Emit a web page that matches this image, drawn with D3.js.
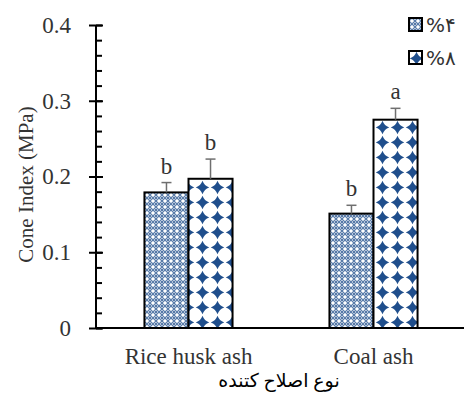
<!DOCTYPE html>
<html>
<head>
<meta charset="utf-8">
<script src="https://cdn.jsdelivr.net/npm/d3@7"></script>
<style>
   html, body { margin: 0; padding: 0; background: #fff; }
   svg { display: block; font-family: 'Liberation Serif', 'DejaVu Sans', serif; }
</style>
</head>
<body>
<div id="chart"></div>
<script>
// data
const categories = ['Rice husk ash', 'Coal ash'];
const seriesNames = ['%۴', '%۸'];
const values4 = [0.179, 0.151];
const errors4 = [0.013, 0.011];
const letters4 = ['b', 'b'];
const values8 = [0.197, 0.275];
const errors8 = [0.026, 0.015];
const letters8 = ['b', 'a'];
const yTicks = [0, 0.1, 0.2, 0.3, 0.4];
const yTitle = 'Cone Index (MPa)';
const xTitle = 'نوع اصلاح کتنده';

const width = 464, height = 396;
const margin = { top: 25, right: -2, bottom: 68, left: 96 };
const blue = '#1f4e8c';
const textColor = '#333';
const fontSize = 23;

const svg = d3.select('#chart')
   .append('svg')
   .attr('width', width)
   .attr('height', height);

// fill patterns
const defs = svg.append('defs');
const p4 = defs.append('pattern')
   .attr('id', 'pat4')
   .attr('patternUnits', 'userSpaceOnUse')
   .attr('width', 6)
   .attr('height', 6);
p4.append('rect').attr('width', 6).attr('height', 6).attr('fill', '#fff');
p4.append('circle').attr('cx', 3).attr('cy', 3).attr('r', 2.4)
   .attr('fill', 'none').attr('stroke', blue).attr('stroke-width', 1);
p4.selectAll('.dot').data([[0, 0], [6, 0], [0, 6], [6, 6]]).join('circle')
   .attr('cx', d => d[0]).attr('cy', d => d[1]).attr('r', 1)
   .attr('fill', blue);

const p8 = defs.append('pattern')
   .attr('id', 'pat8')
   .attr('patternUnits', 'userSpaceOnUse')
   .attr('width', 15)
   .attr('height', 15);
p8.append('rect').attr('width', 15).attr('height', 15).attr('fill', '#fff');
p8.append('path')
   .attr('d', 'M7.5,0.8 Q9.3,5.7 14.2,7.5 Q9.3,9.3 7.5,14.2 Q5.7,9.3 0.8,7.5 Q5.7,5.7 7.5,0.8Z')
   .attr('fill', blue);

const plotBottom = height - margin.bottom;
const x0 = d3.scaleBand()
   .domain(categories)
   .range([margin.left, width - margin.right])
   .padding(0);
const x1 = d3.scaleBand()
   .domain(seriesNames)
   .range([0, x0.bandwidth()])
   .paddingInner(0)
   .paddingOuter(1.1);
const y = d3.scaleLinear()
   .domain([0, 0.4])
   .range([plotBottom, margin.top]);

const rows = [];
categories.forEach((c, i) => {
   rows.push({ cat: c, s: seriesNames[0], v: values4[i], e: errors4[i], l: letters4[i], fill: 'url(#pat4)' });
   rows.push({ cat: c, s: seriesNames[1], v: values8[i], e: errors8[i], l: letters8[i], fill: 'url(#pat8)' });
});

// bars
svg.append('g')
   .selectAll('rect')
   .data(rows)
   .join('rect')
   .attr('x', d => x0(d.cat) + x1(d.s))
   .attr('y', d => y(d.v))
   .attr('width', x1.bandwidth())
   .attr('height', d => plotBottom - y(d.v))
   .attr('fill', d => d.fill)
   .attr('stroke', '#000')
   .attr('stroke-width', 2);

// error bars
const eb = svg.append('g')
   .attr('stroke', '#6f6f6f')
   .attr('stroke-width', 1.5);
rows.forEach(d => {
   const cx = x0(d.cat) + x1(d.s) + x1.bandwidth() / 2;
   eb.append('line')
      .attr('x1', cx).attr('x2', cx)
      .attr('y1', y(d.v)).attr('y2', y(d.v + d.e));
   eb.append('line')
      .attr('x1', cx - 5).attr('x2', cx + 5)
      .attr('y1', y(d.v + d.e)).attr('y2', y(d.v + d.e));
});

// significance letters
svg.append('g')
   .selectAll('text')
   .data(rows)
   .join('text')
   .attr('x', d => x0(d.cat) + x1(d.s) + x1.bandwidth() / 2)
   .attr('y', d => y(d.v + d.e) - 9)
   .attr('text-anchor', 'middle')
   .attr('font-size', fontSize)
   .attr('fill', textColor)
   .text(d => d.l);

// y axis: minor ticks inside, major ticks crossing
const minorG = svg.append('g')
   .attr('transform', `translate(${margin.left},0)`)
   .call(
      d3.axisRight(y)
         .tickValues(d3.range(0, 0.4001, 0.02))
         .tickSize(6)
         .tickFormat('')
   );
minorG.select('.domain').remove();
minorG.selectAll('.tick line').attr('stroke', '#000').attr('stroke-width', 2);

const yAxisG = svg.append('g')
   .attr('transform', `translate(${margin.left},0)`)
   .call(
      d3.axisLeft(y)
         .tickValues(yTicks)
         .tickSize(7)
         .tickPadding(18)
         .tickFormat(d => (d === 0 ? '0' : d3.format('.1f')(d)))
   );
yAxisG.selectAll('.tick line').attr('stroke', '#000').attr('stroke-width', 2);
yAxisG.selectAll('.tick')
   .append('line')
   .attr('x2', 7)
   .attr('stroke', '#000')
   .attr('stroke-width', 2);
yAxisG.select('.domain').attr('stroke', '#000').attr('stroke-width', 2)
   .attr('d', `M0,${margin.top}V${plotBottom}`);
yAxisG.selectAll('text')
   .attr('font-family', "'Liberation Serif', serif")
   .attr('font-size', fontSize)
   .attr('fill', textColor);

// x axis line
const xAxisG = svg.append('g')
   .attr('transform', `translate(0,${plotBottom})`)
   .call(d3.axisBottom(x0).tickSize(0).tickPadding(20));
xAxisG.selectAll('.tick line').remove();
xAxisG.select('.domain').attr('stroke', '#000').attr('stroke-width', 2)
   .attr('d', `M${margin.left},0H${width + 5}`);
xAxisG.selectAll('text')
   .attr('font-family', "'Liberation Serif', serif")
   .attr('font-size', fontSize)
   .attr('fill', textColor);

// axis titles
svg.append('text')
   .attr('transform', `translate(33,${(margin.top + plotBottom) / 2 + 8}) rotate(-90)`)
   .attr('text-anchor', 'middle')
   .attr('font-size', 21)
   .attr('fill', textColor)
   .text(yTitle);

svg.append('text')
   .attr('x', (margin.left + width) / 2 - 1)
   .attr('y', 387)
   .attr('text-anchor', 'middle')
   .attr('font-size', 19)
   .attr('fill', '#000')
   .text(xTitle);

// legend
const legend = svg.append('g').attr('transform', 'translate(409,18)');
const items = legend.selectAll('g')
   .data(seriesNames)
   .join('g')
   .attr('transform', (d, i) => `translate(0,${i * 33})`);
items.append('rect')
   .attr('width', 13)
   .attr('height', 13)
   .attr('fill', (d, i) => (i === 0 ? 'url(#pat4)' : 'url(#pat8)'))
   .attr('stroke', '#000')
   .attr('stroke-width', 2);
items.append('text')
   .attr('x', 17)
   .attr('y', 14)
   .attr('font-family', "'DejaVu Sans', sans-serif")
   .attr('font-size', 20)
   .attr('fill', textColor)
   .attr('direction', 'ltr')
   .text(d => d);
</script>
</body>
</html>
